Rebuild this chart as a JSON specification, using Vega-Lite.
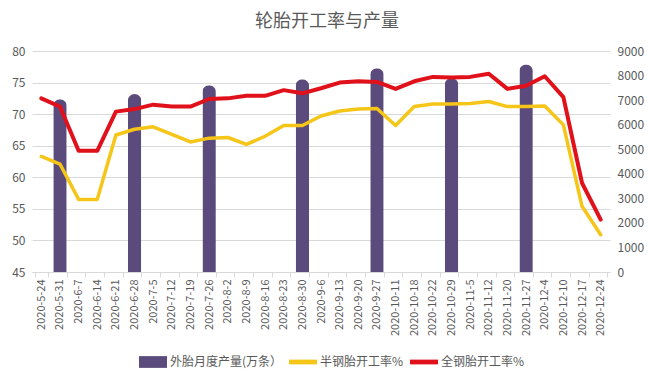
{
  "$schema": "https://vega.github.io/schema/vega-lite/v6.json",
  "width": 578,
  "height": 221,
  "autosize": "none",
  "padding": {"left": 32, "top": 51, "right": 42, "bottom": 102},
  "background": "white",
  "config": {
    "font": "Noto Sans CJK SC",
    "view": {"stroke": null}
  },
  "title": {
    "text": "轮胎开工率与产量",
    "fontSize": 18,
    "fontWeight": "normal",
    "color": "#595959",
    "anchor": "middle",
    "frame": "group",
    "offset": 14,
    "dx": 6
  },
  "datasets": {
    "bars": [
      {"d": "2020-5-31", "s": "外胎月度产量(万条）", "v": 7040},
      {"d": "2020-6-28", "s": "外胎月度产量(万条）", "v": 7250},
      {"d": "2020-7-26", "s": "外胎月度产量(万条）", "v": 7610},
      {"d": "2020-8-30", "s": "外胎月度产量(万条）", "v": 7850},
      {"d": "2020-9-27", "s": "外胎月度产量(万条）", "v": 8300},
      {"d": "2020-10-29", "s": "外胎月度产量(万条）", "v": 7900},
      {"d": "2020-11-27", "s": "外胎月度产量(万条）", "v": 8450}
    ],
    "lines": [
      {"d": "2020-5-24", "s": "半钢胎开工率%", "v": 63.3},
      {"d": "2020-5-31", "s": "半钢胎开工率%", "v": 62.1},
      {"d": "2020-6-7", "s": "半钢胎开工率%", "v": 56.5},
      {"d": "2020-6-14", "s": "半钢胎开工率%", "v": 56.5},
      {"d": "2020-6-21", "s": "半钢胎开工率%", "v": 66.7},
      {"d": "2020-6-28", "s": "半钢胎开工率%", "v": 67.6},
      {"d": "2020-7-5", "s": "半钢胎开工率%", "v": 68.0},
      {"d": "2020-7-12", "s": "半钢胎开工率%", "v": 66.8},
      {"d": "2020-7-19", "s": "半钢胎开工率%", "v": 65.6},
      {"d": "2020-7-26", "s": "半钢胎开工率%", "v": 66.2},
      {"d": "2020-8-2", "s": "半钢胎开工率%", "v": 66.3},
      {"d": "2020-8-9", "s": "半钢胎开工率%", "v": 65.2},
      {"d": "2020-8-16", "s": "半钢胎开工率%", "v": 66.5},
      {"d": "2020-8-23", "s": "半钢胎开工率%", "v": 68.2},
      {"d": "2020-8-30", "s": "半钢胎开工率%", "v": 68.2},
      {"d": "2020-9-6", "s": "半钢胎开工率%", "v": 69.7},
      {"d": "2020-9-13", "s": "半钢胎开工率%", "v": 70.5},
      {"d": "2020-9-20", "s": "半钢胎开工率%", "v": 70.8},
      {"d": "2020-9-27", "s": "半钢胎开工率%", "v": 70.9},
      {"d": "2020-10-11", "s": "半钢胎开工率%", "v": 68.2},
      {"d": "2020-10-18", "s": "半钢胎开工率%", "v": 71.2},
      {"d": "2020-10-22", "s": "半钢胎开工率%", "v": 71.6},
      {"d": "2020-10-29", "s": "半钢胎开工率%", "v": 71.6},
      {"d": "2020-11-5", "s": "半钢胎开工率%", "v": 71.7},
      {"d": "2020-11-12", "s": "半钢胎开工率%", "v": 72.0},
      {"d": "2020-11-20", "s": "半钢胎开工率%", "v": 71.2},
      {"d": "2020-11-27", "s": "半钢胎开工率%", "v": 71.2},
      {"d": "2020-12-4", "s": "半钢胎开工率%", "v": 71.3},
      {"d": "2020-12-10", "s": "半钢胎开工率%", "v": 68.3},
      {"d": "2020-12-17", "s": "半钢胎开工率%", "v": 55.4},
      {"d": "2020-12-24", "s": "半钢胎开工率%", "v": 50.9},
      {"d": "2020-5-24", "s": "全钢胎开工率%", "v": 72.5},
      {"d": "2020-5-31", "s": "全钢胎开工率%", "v": 71.2},
      {"d": "2020-6-7", "s": "全钢胎开工率%", "v": 64.2},
      {"d": "2020-6-14", "s": "全钢胎开工率%", "v": 64.2},
      {"d": "2020-6-21", "s": "全钢胎开工率%", "v": 70.4},
      {"d": "2020-6-28", "s": "全钢胎开工率%", "v": 70.8},
      {"d": "2020-7-5", "s": "全钢胎开工率%", "v": 71.5},
      {"d": "2020-7-12", "s": "全钢胎开工率%", "v": 71.2},
      {"d": "2020-7-19", "s": "全钢胎开工率%", "v": 71.2},
      {"d": "2020-7-26", "s": "全钢胎开工率%", "v": 72.4},
      {"d": "2020-8-2", "s": "全钢胎开工率%", "v": 72.5},
      {"d": "2020-8-9", "s": "全钢胎开工率%", "v": 72.9},
      {"d": "2020-8-16", "s": "全钢胎开工率%", "v": 72.9},
      {"d": "2020-8-23", "s": "全钢胎开工率%", "v": 73.8},
      {"d": "2020-8-30", "s": "全钢胎开工率%", "v": 73.3},
      {"d": "2020-9-6", "s": "全钢胎开工率%", "v": 74.1},
      {"d": "2020-9-13", "s": "全钢胎开工率%", "v": 75.0},
      {"d": "2020-9-20", "s": "全钢胎开工率%", "v": 75.2},
      {"d": "2020-9-27", "s": "全钢胎开工率%", "v": 75.1},
      {"d": "2020-10-11", "s": "全钢胎开工率%", "v": 74.0},
      {"d": "2020-10-18", "s": "全钢胎开工率%", "v": 75.2},
      {"d": "2020-10-22", "s": "全钢胎开工率%", "v": 75.9},
      {"d": "2020-10-29", "s": "全钢胎开工率%", "v": 75.8},
      {"d": "2020-11-5", "s": "全钢胎开工率%", "v": 75.9},
      {"d": "2020-11-12", "s": "全钢胎开工率%", "v": 76.4},
      {"d": "2020-11-20", "s": "全钢胎开工率%", "v": 74.0},
      {"d": "2020-11-27", "s": "全钢胎开工率%", "v": 74.5},
      {"d": "2020-12-4", "s": "全钢胎开工率%", "v": 76.0},
      {"d": "2020-12-10", "s": "全钢胎开工率%", "v": 72.7},
      {"d": "2020-12-17", "s": "全钢胎开工率%", "v": 59.1},
      {"d": "2020-12-24", "s": "全钢胎开工率%", "v": 53.3}
    ]
  },
  "encoding": {
    "x": {
      "field": "d",
      "type": "ordinal",
      "scale": {
        "domain": ["2020-5-24","2020-5-31","2020-6-7","2020-6-14","2020-6-21","2020-6-28","2020-7-5","2020-7-12","2020-7-19","2020-7-26","2020-8-2","2020-8-9","2020-8-16","2020-8-23","2020-8-30","2020-9-6","2020-9-13","2020-9-20","2020-9-27","2020-10-11","2020-10-18","2020-10-22","2020-10-29","2020-11-5","2020-11-12","2020-11-20","2020-11-27","2020-12-4","2020-12-10","2020-12-17","2020-12-24"],
        "paddingInner": 0.28,
        "paddingOuter": 0.14
      },
      "axis": {
        "title": null,
        "labelAngle": -90,
        "labelFontSize": 11,
        "labelColor": "#595959",
        "labelPadding": 2,
        "tickBand": "extent",
        "ticks": true,
        "tickSize": 5,
        "tickColor": "#d9d9d9",
        "domainColor": "#d9d9d9",
        "grid": false
      }
    }
  },
  "layer": [
    {
      "data": {"name": "bars"},
      "mark": {"type": "bar", "cornerRadiusEnd": 7},
      "encoding": {
        "y": {
          "field": "v",
          "type": "quantitative",
          "scale": {"domain": [0, 9000]},
          "axis": {
            "orient": "right",
            "title": null,
            "format": "d",
            "values": [0,1000,2000,3000,4000,5000,6000,7000,8000,9000],
            "grid": false,
            "domain": false,
            "ticks": false,
            "labelFontSize": 12,
            "labelColor": "#595959",
            "labelPadding": 7
          }
        },
        "color": {
          "field": "s",
          "type": "nominal",
          "scale": {
            "domain": ["外胎月度产量(万条）", "半钢胎开工率%", "全钢胎开工率%"],
            "range": ["#5b4a7c", "#f5c518", "#e0111b"]
          },
          "legend": {
            "orient": "none",
            "legendX": 107,
            "legendY": 297,
            "direction": "horizontal",
            "title": null,
            "labelFontSize": 12,
            "labelColor": "#595959",
            "labelOffset": 3,
            "columnPadding": 6,
            "symbolSize": 784,
            "symbolType": "M-1,-0.17H1V0.17H-1Z",
            "symbolStrokeWidth": 0,
            "encode": {
              "symbols": {
                "update": {
                  "fill": {"scale": "color", "field": "value"},
                  "strokeWidth": {"value": 0},
                  "opacity": {"value": 1},
                  "shape": {"signal": "datum.value === '外胎月度产量(万条）' ? 'M-1,-0.42H1V0.42H-1Z' : 'M-1,-0.17H1V0.17H-1Z'"}
                }
              }
            }
          }
        }
      }
    },
    {
      "data": {"name": "lines"},
      "encoding": {
        "y": {
          "field": "v",
          "type": "quantitative",
          "scale": {"domain": [45, 80]},
          "axis": {
            "title": null,
            "values": [45,50,55,60,65,70,75,80],
            "grid": true,
            "gridColor": "#d9d9d9",
            "domain": false,
            "ticks": false,
            "labelFontSize": 12,
            "labelColor": "#595959",
            "labelPadding": 7
          }
        },
        "color": {"field": "s", "type": "nominal"}
      },
      "layer": [
        {
          "transform": [{"filter": "datum.s === '半钢胎开工率%'"}],
          "mark": {"type": "line", "strokeWidth": 3.5, "strokeJoin": "round", "strokeCap": "round"}
        },
        {
          "transform": [{"filter": "datum.s === '全钢胎开工率%'"}],
          "mark": {"type": "line", "strokeWidth": 4, "strokeJoin": "round", "strokeCap": "round"}
        }
      ]
    }
  ],
  "resolve": {"scale": {"y": "independent"}}
}
